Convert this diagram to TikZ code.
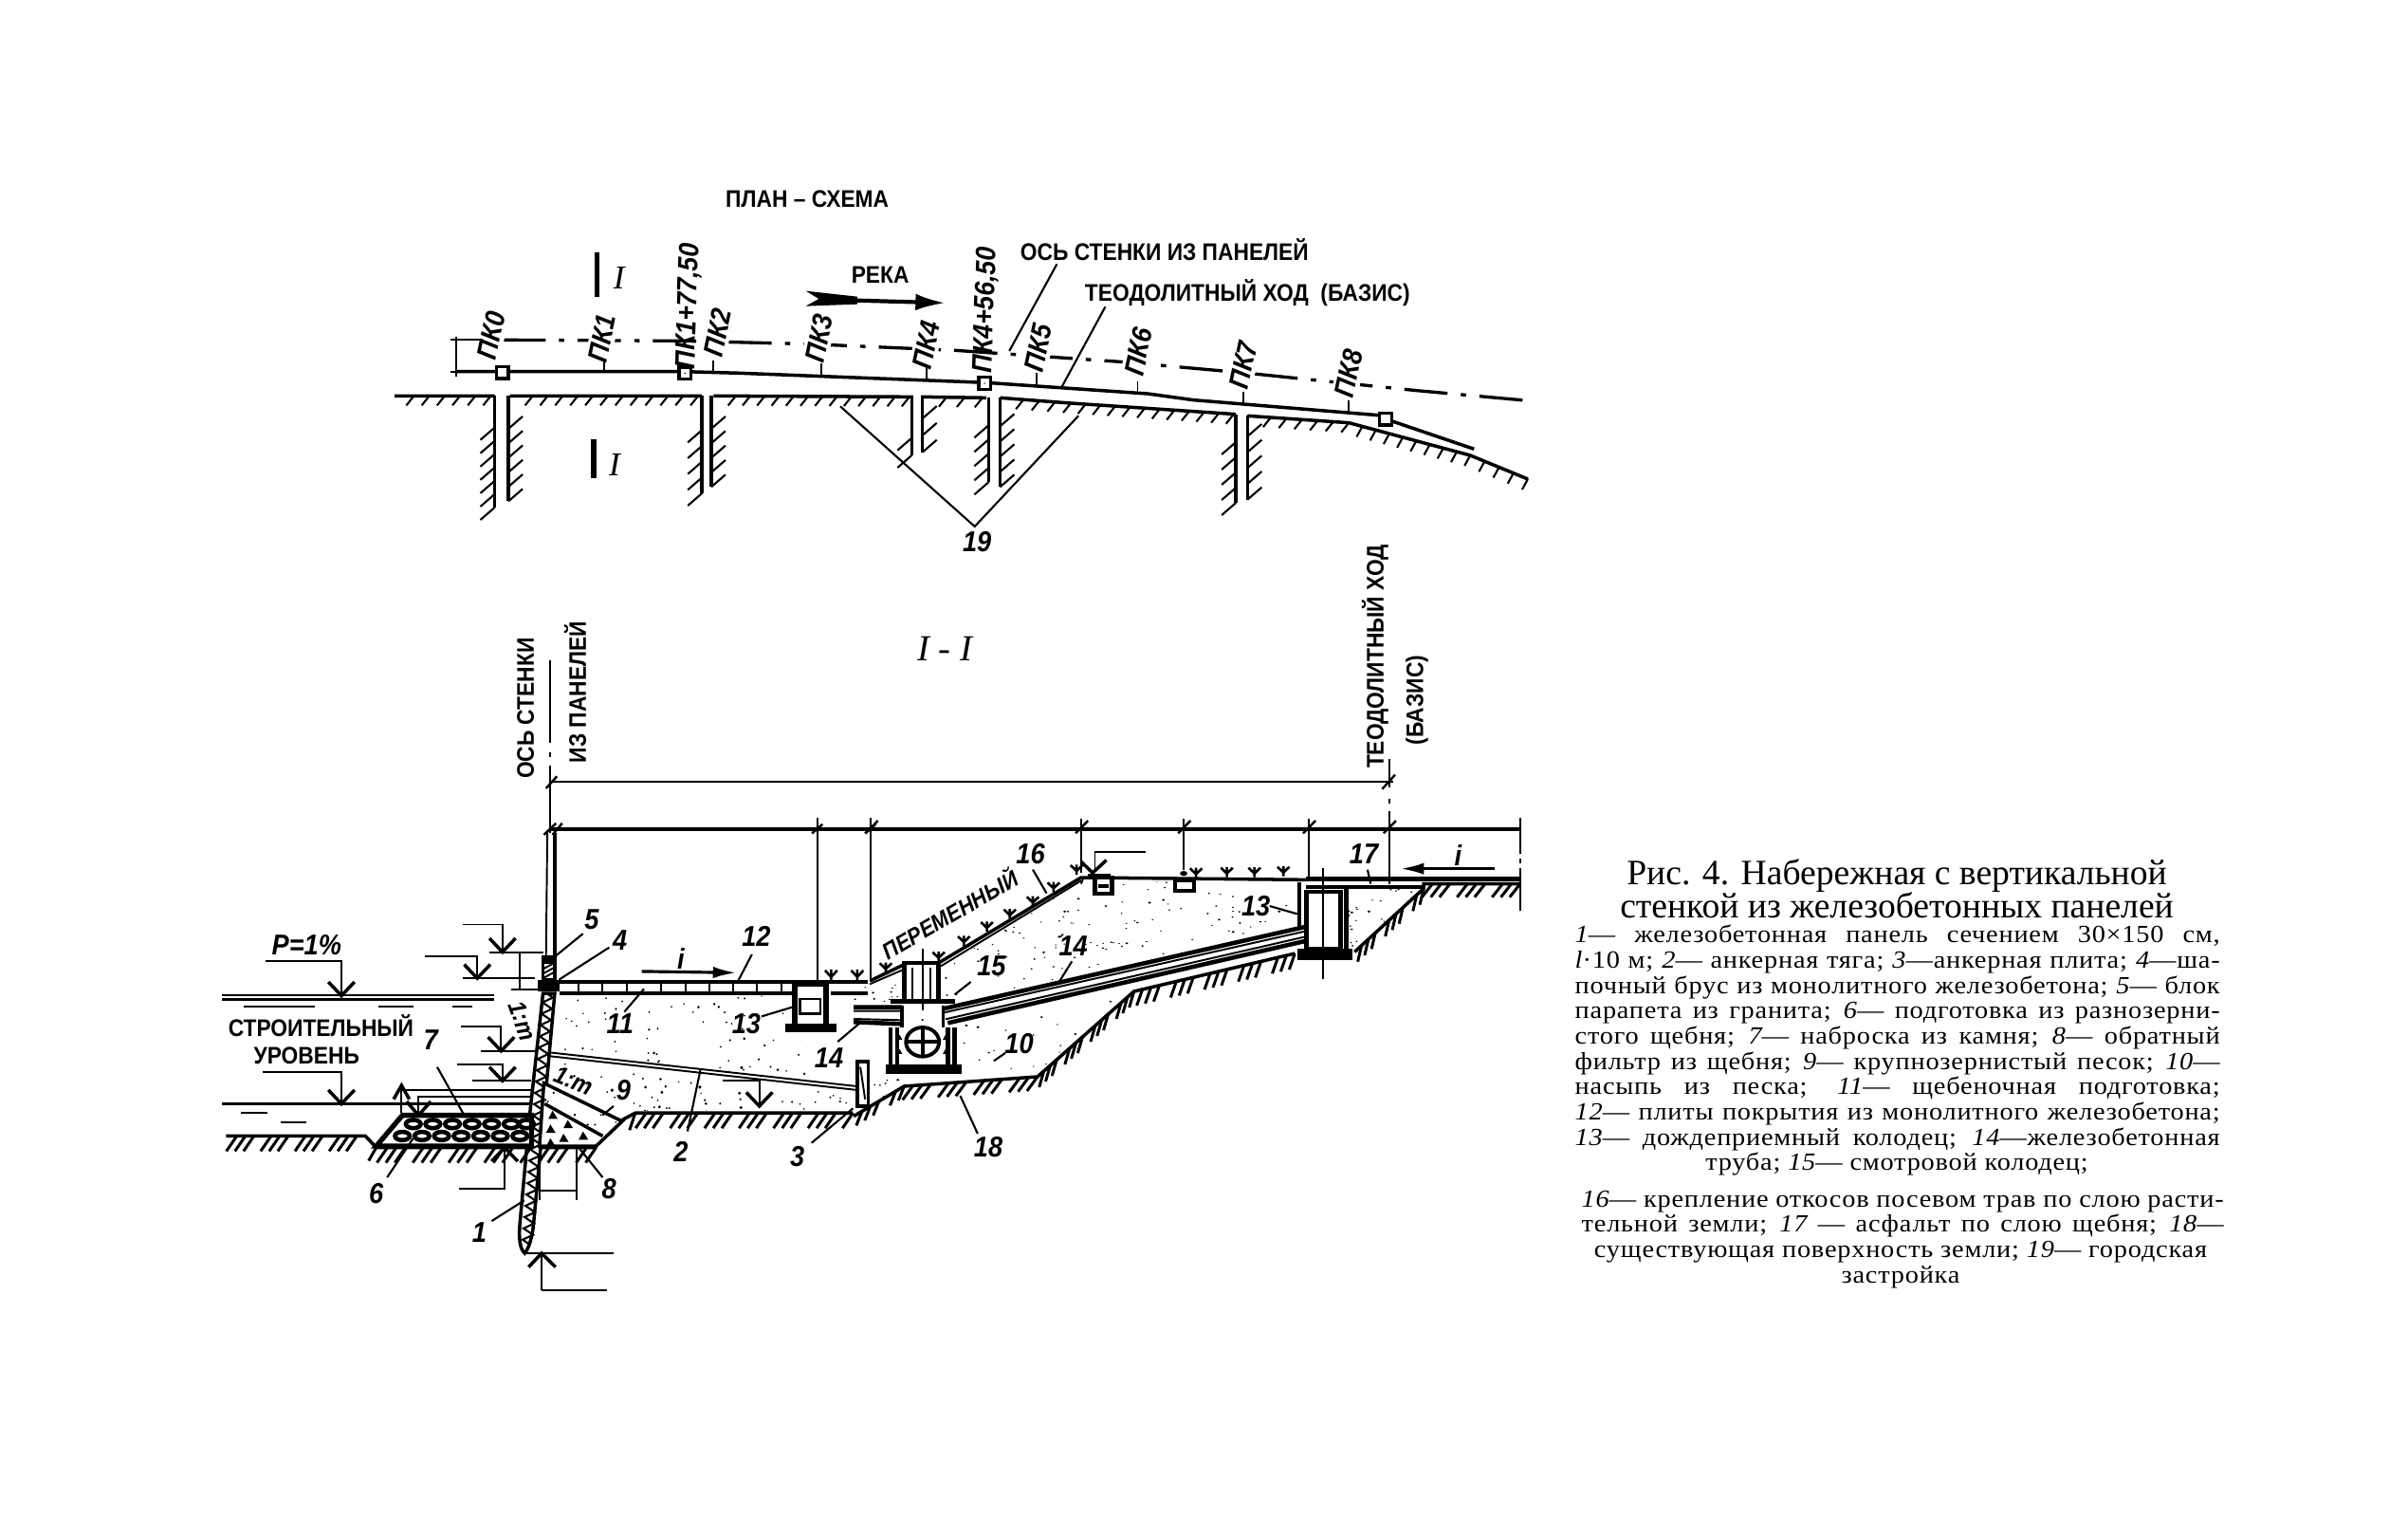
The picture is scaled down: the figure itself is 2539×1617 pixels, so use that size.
\documentclass[tikz,border=0pt]{standalone}
\usepackage{fontspec}
\setmainfont{Liberation Serif}
\newfontfamily\narrowsans{Liberation Sans}[FakeStretch=0.9]
\newfontfamily\legserif{Liberation Serif}[FakeStretch=1.09,LetterSpace=3]
\usetikzlibrary{decorations.pathmorphing,arrows.meta}
\newcommand{\capsfont}{\narrowsans\bfseries\fontsize{7.2}{8}\selectfont}
\newcommand{\numfont}{\narrowsans\bfseries\itshape\fontsize{8.6}{9}\selectfont}
\newcommand{\pkfont}{\narrowsans\bfseries\itshape\fontsize{8.4}{9}\selectfont}
\newcommand{\legfont}{\legserif\fontsize{7.4}{8}\selectfont}
\newcommand{\ti}[1]{{\itshape #1}}
\tikzset{
 main/.style={line width=1.0pt},
 thin line/.style={line width=0.55pt},
 lead/.style={line width=0.6pt},
 hw/.style={line width=0.6pt},
 caps/.style={font=\capsfont,inner sep=0pt},
 num/.style={font=\numfont,inner sep=0pt},
 pk/.style={font=\pkfont,inner sep=0pt},
 pkw/.style={font=\pkfont,inner sep=1pt,fill=white},
 crA/.style={shift={(400,180)},xscale=0.81,yscale=0.3333},
 crB/.style={shift={(220,640)},xscale=0.459,yscale=0.4847},
 crC/.style={shift={(900,800)},xscale=0.4847,yscale=0.3333},
 sta/.style={draw,line width=0.9pt,fill=white,minimum size=3.6pt,inner sep=0pt},
}
% hatch along a segment: x1 y1 x2 y2, tick dx dy (px), spacing (px), group
\newcommand{\hch}[8]{%
 \pgfmathsetmacro\hL{veclen((#3-#1)*\hsx,(#4-#2)*\hsy)}%
 \pgfmathtruncatemacro\hN{max(\hL/#7,1)}%
 \foreach \i in {0,...,\hN}{%
  \pgfmathtruncatemacro\hsk{mod(\i,#8)}%
  \ifnum\hsk>0
   \pgfmathsetmacro\hx{#1+(#3-#1)*\i/\hN}%
   \pgfmathsetmacro\hy{#2+(#4-#2)*\i/\hN}%
   \pgfmathsetmacro\hdx{#5/\hsx}%
   \pgfmathsetmacro\hdy{#6/\hsy}%
   \draw[hw] (\hx,\hy) -- ++(\hdx,\hdy);%
  \fi}}
% label with a leader
\newcommand{\ldr}[5]{\node[num] (l#1) at (#3) {#2};\coordinate (l#1a) at (#4);\coordinate (l#1b) at (#5);\draw[lead] (l#1a) -- (l#1b);}
% level mark
\newcommand{\lv}[4]{\draw[thin line] (#1,#4) -- (#2,#4) -- (#2,#3);\draw[main] (#2-30,#3-30) -- (#2,#3) -- (#2+30,#3-30);}
% sand
\newcommand{\sand}[7]{\begin{scope}\clip #7;\pgfmathsetseed{#1}\foreach \n in {1,...,#2}{\pgfmathsetmacro\rx{#3+rnd*#5}\pgfmathsetmacro\ry{#4+rnd*#6}\pgfmathsetmacro\rr{1.8+2.2*rnd*rnd}\fill (\rx,\ry) circle (\rr);}\end{scope}}
% grass
\newcommand{\grs}[2]{\draw[line width=0.75pt] (#1,#2-16) -- (#1,#2+16) (#1-13,#2-14) -- (#1,#2+4) -- (#1+13,#2-14);}
% caption line
\newcommand{\jl}[4]{\node[inner sep=0pt,anchor=base west,font=\legfont] (#1) at (#2) {\makebox[#3][s]{#4}};}
\begin{document}
\begin{tikzpicture}[x=0.1mm,y=-0.1mm,line cap=butt]
\useasboundingbox (0,0) rectangle (2539,1617);
\fill[white] (0,0) rectangle (2539,1617);
%%% PLAN
\begin{scope}[crA]
\def\hsx{0.81}\def\hsy{0.3333}
\node[caps] (plan) at (557,90) {ПЛАН – СХЕМА};
\node[caps] (reka) at (652,330) {РЕКА};
\node[caps] (osp) at (1022,250) {ОСЬ СТЕНКИ ИЗ ПАНЕЛЕЙ};
\node[caps] (teo) at (1130,385) {ТЕОДОЛИТНЫЙ ХОД\ \ (БАЗИС)};
% section marks
\draw[line width=1.5pt] (283,258) -- (283,400) (279,848) -- (279,972);
\node[font=\itshape\fontsize{10}{10}\selectfont,inner sep=0pt] (s1) at (312,340) {I};
\node[font=\itshape\fontsize{10}{10}\selectfont,inner sep=0pt] (s2) at (306,930) {I};
% river arrow
\draw[line width=1.2pt,-{Latex[length=9pt,width=5pt]}] (620,410) -- (737,418);
\fill (555,380) -- (622,398) -- (622,422) -- (555,428) -- (572,405) -- cycle;
% axis dash-dot
\draw[line width=0.95pt,dash pattern=on 13pt off 4pt on 1.6pt off 4pt] (160,535) -- (395,538) -- (560,548) -- (750,568) -- (970,605) -- (1130,640) -- (1350,695) -- (1500,728);
% labels
\node[pkw,rotate=78] (pk0) at (146,520) {ПК0};
\node[pkw,rotate=78] (pk1) at (290,530) {ПК1};
\node[pk,rotate=88] (pk1a) at (403,428) {ПК1+77,50};
\node[pkw,rotate=78] (pk2) at (440,512) {ПК2};
\node[pkw,rotate=78] (pk3) at (572,530) {ПК3};
\node[pkw,rotate=78] (pk4) at (712,550) {ПК4};
\node[pk,rotate=88] (pk4a) at (790,440) {ПК4+56,50};
\node[pkw,rotate=78] (pk5) at (858,560) {ПК5};
\node[pkw,rotate=78] (pk6) at (988,572) {ПК6};
\node[pkw,rotate=78] (pk7) at (1125,615) {ПК7};
\node[pkw,rotate=78] (pk8) at (1262,640) {ПК8};
% theodolite line
\draw[main] (100,635) -- (395,635) -- (470,640) -- (790,670) -- (1000,705) -- (1060,725) -- (1310,775);
\draw[main] (1310,785) -- (1425,880);
\draw[thin line] (100,525) -- (100,650);
\draw[thin line] (92,535) -- (135,535) (92,635) -- (110,635);
% ticks
\foreach \x/\a/\b in {293/595/635,435/600/635,575/610/650,712/622/662,855/640/680,987/665/705,1125/700/740,1262/725/770}{\draw[thin line] (\x,\a) -- (\x,\b);}
% stations
\node[sta] (st0) at (160,638) {};
\node[sta] (st1) at (398,640) {};
\node[sta] (st2) at (788,672) {};
\node[sta] (st3) at (1310,785) {};
\foreach \s in {st1,st2}{\fill (\s) circle (1.6);}
% coast
\draw[main] (20,712) -- (150,712) (170,712) -- (420,712) (435,712) -- (695,715) (705,715) -- (790,718) (808,718) -- (900,735) -- (1115,770) (1130,775) -- (1262,797) -- (1420,900) -- (1495,975);
\hch{25}{712}{145}{712}{-8}{10}{15}{1000}
\hch{180}{712}{415}{712}{-8}{10}{15}{1000}
\hch{445}{712}{690}{715}{-8}{10}{15}{1000}
\hch{715}{715}{785}{718}{-8}{10}{15}{1000}
\hch{818}{720}{900}{735}{-8}{10}{15}{1000}
\hch{900}{735}{1112}{770}{-8}{10}{15}{1000}
\hch{1140}{777}{1262}{797}{-8}{10}{15}{1000}
\hch{1262}{797}{1420}{900}{-6}{11}{14}{1000}
\hch{1420}{900}{1495}{975}{-6}{11}{14}{1000}
% lanes
\draw[main] (150,712) -- (150,1065) (168,712) -- (168,1045) (420,712) -- (420,1020) (432,712) -- (432,1000) (693,715) -- (693,900) (707,715) -- (707,890) (793,718) -- (793,985) (808,718) -- (808,1000) (1115,770) -- (1115,1050) (1130,775) -- (1130,1040);
\foreach \x/\a/\b in {150/770/1065,420/770/1020,693/790/900,793/760/985,1115/810/1050}{\hch{\x}{\a}{\x}{\b}{-15}{13}{14}{1000}}
\foreach \x/\a/\b in {168/770/1045,432/770/1000,707/730/890,808/760/1000,1130/790/1040}{\hch{\x}{\a}{\x}{\b}{15}{-13}{14}{1000}}
% leaders
\coordinate (oa) at (882,295);\coordinate (ob) at (820,570);\draw[lead] (oa) -- (ob);
\coordinate (ta) at (945,430);\coordinate (tb) at (888,685);\draw[lead] (ta) -- (tb);
\node[num] (n19) at (778,1172) {19};
\coordinate (ca) at (600,745);\coordinate (cb) at (910,775);\coordinate (cc) at (775,1125);
\draw[lead] (ca) -- (cc) -- (cb);
\end{scope}
\node[font=\itshape\fontsize{11}{11}\selectfont,inner sep=0pt] (secname) at (996,684) {I - I};
%%% SECTION, left part
\tikzset{hw/.style={line width=0.85pt}}
\begin{scope}[crB]
\def\hsx{0.459}\def\hsy{0.4847}
\sand{11}{95}{790}{840}{720}{210}{(800,845) -- (1330,845) -- (1330,930) -- (1500,1030) -- (1490,1040) -- (790,965) -- cycle}
\sand{12}{75}{790}{970}{700}{130}{(790,990) -- (950,1095) -- (1480,1095) -- (1480,1050) -- (800,980) -- cycle}
% captions on axis
\node[caps,rotate=90] (ax1) at (728,220) {ОСЬ СТЕНКИ};
\node[caps,rotate=90] (ax2) at (842,185) {ИЗ ПАНЕЛЕЙ};
\draw[thin line] (785,115) -- (785,295) (785,315) -- (785,325) (785,345) -- (785,490);
% wall
\draw[thin line] (778,490) -- (775,760);
\draw[main] (795,490) -- (795,760);
\draw[main] (768,760) rectangle (795,810);
\fill (768,760) rectangle (795,775);
\foreach \y in {780,790,800}{\draw[thin line] (770,\y+6) -- (793,\y-6);}
\fill (757,810) rectangle (805,836);
% panel
\draw[main,fill=white] (768,840) -- (738,1100) -- (715,1340) .. controls (712,1375) and (715,1395) .. (726,1405) .. controls (735,1395) and (742,1375) .. (746,1345) -- (770,1100) -- (795,840) -- cycle;
\draw[line width=0.6pt,decorate,decoration={zigzag,segment length=3.4pt,amplitude=1.5pt}] (780,842) -- (732,1385);
% plates
\draw[main] (805,815) -- (1350,815);
\draw[main] (805,840) -- (1340,840);
\foreach \x in {850,905,960,1040,1095,1150,1205,1260,1315}{\draw[thin line] (\x,815) -- (\x,840);}
% water
\draw[thin line] (30,843) -- (655,843);
\draw[main] (30,853) -- (655,853);
\draw[thin line] (80,868) -- (245,868) (390,868) -- (470,868) (560,868) -- (605,868);
\draw[main] (30,1080) -- (740,1080);
\draw[thin line] (75,1100) -- (135,1100) (165,1120) -- (225,1120);
\lv{130}{305}{845}{770}
\lv{125}{305}{1080}{1010}
\node[font=\numfont,inner sep=0pt] (p1) at (225,735) {P=1\%};
\node[caps] (stl) at (258,910) {СТРОИТЕЛЬНЫЙ};
\node[caps] (stu) at (225,975) {УРОВЕНЬ};
% other level marks
\lv{583}{675}{750}{690}
\draw[thin line] (645,750) -- (770,750);
\lv{497}{617}{807}{760}
\draw[thin line] (583,807) -- (750,807);
\draw[thin line] (715,750) -- (715,832);
\draw[thin line] (695,832) -- (760,832);
\lv{580}{672}{965}{912}
\draw[thin line] (625,965) -- (750,965);
\lv{570}{675}{1030}{995}
\draw[thin line] (605,1030) -- (740,1030);
\draw[thin line] (443,1100) -- (443,1050) -- (740,1050);
\draw[main] (425,1070) -- (443,1040) -- (461,1070);
\draw[thin line] (482,1100) -- (482,1065) -- (740,1065);
\draw[main] (455,1075) -- (482,1105) -- (510,1075);
% stones layer
\draw[fill=white,line width=1.5pt] (385,1172) -- (445,1105) -- (742,1105) -- (742,1172) -- cycle;
\foreach \x in {470,515,560,605,650,695,730}{\draw[line width=1.3pt] (\x,1124) ellipse (17 and 9);}
\foreach \x in {445,490,535,580,625,670,715}{\draw[line width=1.3pt] (\x,1150) ellipse (17 and 9);}
% ground left
\draw[main] (40,1150) -- (360,1150) -- (385,1175) -- (740,1175);
\hch{45}{1150}{360}{1150}{-11}{16}{9}{4}
\hch{360}{1150}{385}{1175}{-8}{14}{9}{4}
\hch{390}{1175}{740}{1175}{-11}{16}{9}{4}
% filter
\draw[main,fill=white] (770,1035) -- (950,1118) -- (890,1172) -- (760,1172) -- cycle;
\draw[main] (772,1080) -- (905,1150);
\foreach \x/\y in {790/1105,825/1125,785/1135,815/1155,860/1150,785/1165}{\fill (\x-10,\y+8) -- (\x,\y-10) -- (\x+12,\y+8) -- cycle;}
\sand{13}{30}{770}{1040}{180}{110}{(772,1040) -- (945,1118) -- (905,1145) -- (772,1075) -- cycle}
\draw[main] (760,1175) -- (890,1175) (950,1115) -- (980,1100) -- (1480,1100);
\hch{760}{1175}{890}{1175}{-11}{16}{9}{4}
\hch{950}{1115}{980}{1100}{-6}{18}{9}{4}
\hch{985}{1100}{1480}{1100}{-11}{16}{9}{4}
% bottom marks
\draw[thin line] (575,1265) -- (680,1265) -- (680,1175);
\draw[main] (650,1205) -- (680,1175) -- (710,1205);
\draw[thin line] (760,1180) -- (760,1290) (845,1175) -- (845,1290) (760,1268) -- (845,1268);
\draw[thin line] (765,1485) -- (915,1485) (765,1485) -- (765,1405) (725,1405) -- (930,1405);
\draw[main] (735,1435) -- (765,1405) -- (797,1435);
% anchor rod
\draw[thin line] (780,968) -- (1490,1042);
\draw[thin line] (780,976) -- (1490,1050);
\draw[thin line] (1180,1030) -- (1265,1030) -- (1265,1085);
\draw[main] (1235,1055) -- (1265,1085) -- (1295,1055);
\draw[main,fill=white] (1490,988) rectangle (1515,1085);
\draw[thin line] (1497,1000) -- (1508,1070);
% well 13 left
\fill (1340,815) rectangle (1425,826);
\draw[line width=1.6pt] (1347,826) -- (1347,905) (1418,826) -- (1418,905);
\draw[fill=white,line width=0.8pt] (1358,852) rectangle (1405,884);
\fill (1325,905) rectangle (1442,925);
% dim lines
\draw[thin line] (785,380) -- (2722,380);
\draw[main] (785,483) -- (3013,483);
\draw[thin line] (1398,458) -- (1398,815) (1520,458) -- (1520,815);
\foreach \x in {1398,1520}{\draw[line width=0.7pt] (\x-12,492) -- (\x+12,472);}
\draw[line width=0.7pt] (775,394) -- (800,368) (770,495) -- (798,470) (790,495) -- (812,470);
% surface to slope
\draw[main] (1350,815) -- (1515,815);
\draw[main] (1430,840) -- (1515,840);
\foreach \x/\y in {1430/800,1490/800}{\draw[line width=0.75pt] (\x,\y-12) -- (\x,\y+12) (\x-14,\y-10) -- (\x,\y+4) -- (\x+14,\y-10);}
% labels
\ldr{5}{5}{880,680}{860,710}{795,760}
\ldr{4}{4}{945,725}{920,740}{805,810}
\ldr{12}{12}{1258,715}{1248,755}{1215,815}
\node[num] (ii) at (1085,765) {i};
\draw[line width=0.9pt,-{Latex[length=7pt,width=3.5pt]}] (995,792) -- (1212,795);
\ldr{11}{11}{945,905}{1000,830}{955,880}
\ldr{13}{13}{1235,905}{1270,890}{1340,870}
\ldr{14}{14}{1425,980}{1445,945}{1495,905}
\ldr{7}{7}{510,940}{525,1000}{590,1110}
\ldr{9}{9}{953,1050}{930,1085}{905,1105}
\ldr{2}{2}{1085,1185}{1130,1005}{1100,1140}
\ldr{3}{3}{1352,1195}{1385,1165}{1480,1090}
\ldr{6}{6}{385,1275}{410,1240}{470,1155}
\ldr{8}{8}{920,1265}{905,1240}{850,1175}
\ldr{1}{1}{622,1360}{650,1335}{725,1290}
\node[inner sep=0pt,font=\narrowsans\bfseries\itshape\fontsize{7.4}{8}\selectfont,rotate=-70] (sl1) at (722,900) {1:m};
\node[inner sep=0pt,font=\narrowsans\bfseries\itshape\fontsize{7.4}{8}\selectfont,rotate=-22] (sl2) at (838,1030) {1:m};
\end{scope}
%%% SECTION, right part
\begin{scope}[crC]
\def\hsx{0.4847}\def\hsy{0.3333}
\sand{21}{190}{190}{380}{780}{400}{(195,660) -- (495,385) -- (965,395) -- (965,530) -- (215,770) -- (195,740) -- cycle}
\sand{22}{85}{40}{730}{570}{370}{(225,845) -- (600,735) -- (405,1000) -- (115,1030) -- (40,1090) -- (40,1000) -- (235,1000) -- cycle}
\sand{23}{45}{1075}{405}{170}{200}{(1075,405) -- (1240,405) -- (1090,600) -- (1075,590) -- cycle}
\sand{24}{22}{0}{660}{110}{115}{(0,720) -- (35,710) -- (110,660) -- (110,760) -- (80,775) -- (0,775) -- cycle}
% surface
\draw[main] (38,700) -- (110,650) -- (185,645);
\draw[main] (185,645) -- (495,375) -- (985,382);
\draw[thin line] (35,712) -- (110,665);
\draw[thin line] (190,655) -- (495,385);
\draw[thin line] (495,395) -- (500,375);
\foreach \x/\y in {70/660,185/625,240/575,290/530,340/490,390/450,435/405,485/350,745/360,812/358,872/358,935/355}{\grs{\x}{\y}}
% ground
\draw[main] (0,1130) -- (110,1035) -- (400,1005) -- (610,735) -- (960,615) (1090,610) -- (1240,410) -- (1240,395) -- (1450,395);
\hch{0}{1130}{110}{1035}{-6}{15}{9}{4}
\hch{110}{1035}{400}{1005}{-11}{15}{9}{4}
\hch{400}{1005}{610}{735}{-5}{17}{9}{4}
\hch{610}{735}{960}{615}{-6}{17}{9}{4}
\hch{1090}{610}{1240}{410}{-4}{17}{9}{4}
\hch{1240}{395}{1450}{395}{-11}{14}{9}{4}
\draw[thin line] (1450,185) -- (1450,300) (1450,315) -- (1450,330) (1450,345) -- (1450,480);
% pipes
\draw[line width=1.3pt] (195,790) -- (985,530) (205,835) -- (1000,570);
\draw[thin line] (197,802) -- (988,543) (200,823) -- (995,558);
\draw[line width=1.3pt] (0,785) -- (105,785) (0,832) -- (105,838);
\draw[thin line] (0,797) -- (105,797) (0,822) -- (105,826);
\draw[line width=1.3pt] (985,530) -- (1000,570);
% manhole 15
\draw[line width=1.4pt,fill=white] (110,760) -- (110,645) -- (185,645) -- (185,760);
\draw[thin line] (128,660) -- (128,760) (168,660) -- (168,760);
\fill (80,760) rectangle (220,775);
\draw[line width=1.1pt] (105,780) -- (105,850) (195,780) -- (195,850);
\draw[line width=1.3pt] (80,850) -- (80,965) (220,850) -- (220,965) (95,850) -- (95,965) (205,850) -- (205,965);
\fill (70,965) rectangle (235,995);
\draw[thin line] (150,600) -- (150,795);
\fill (150,825) circle (3);
\draw[line width=1.1pt] (150,895) ellipse (36 and 46);
\draw[line width=1.1pt] (114,895) -- (186,895) (150,849) -- (150,941);
\foreach \x/\y in {100/925,100/880,200/925,200/880}{\fill (\x-6,\y+8) -- (\x,\y-8) -- (\x+6,\y+8) -- cycle;}
\draw[lead] (255,705) -- (220,745);
\node[num] (n15) at (300,655) {15};
% dim lines
\foreach \x/\a/\b in {38/190/700,495/190/360,718/190/350,990/190/385,1165/190/395}{\draw[thin line] (\x,\a) -- (\x,\b);}
\foreach \x in {38,495,718,990,1165}{\draw[line width=0.7pt] (\x-12,235) -- (\x+15,195);}
\draw[line width=0.7pt] (1150,95) -- (1178,50);
\draw[thin line] (1165,0) -- (1165,90) (1165,125) -- (1165,140) (1165,165) -- (1165,190);
% level top
\draw[thin line] (635,295) -- (525,295) -- (525,355);
\draw[main] (495,325) -- (520,360) -- (550,320);
% small wells
\draw[fill=white,line width=1.2pt] (525,375) rectangle (562,425);
\draw[line width=0.9pt] (532,402) -- (555,402);
\fill (510,362) rectangle (560,375);
\draw[fill=white,line width=1.2pt] (700,380) rectangle (740,418);
\fill (718,362) circle (8);
\fill (695,375) rectangle (745,390);
% right well
\draw[main] (970,390) -- (970,530);
\draw[line width=1.3pt] (985,380) -- (1450,380);
\draw[main] (985,405) -- (1240,405);
\draw[line width=1.4pt,fill=white] (985,420) -- (985,600) -- (1060,600) -- (1060,420) -- cycle;
\draw[line width=1.4pt] (1072,405) -- (1072,600);
\fill (965,600) rectangle (1085,635);
\draw[thin line] (1022,345) -- (1022,695);
% labels
\node[caps,rotate=30,font=\narrowsans\bfseries\itshape\fontsize{6.9}{8}\selectfont] (per) at (208,487) {ПЕРЕМЕННЫЙ};
\ldr{16}{16}{385,300}{390,350}{420,425}
\ldr{14b}{14}{478,590}{475,640}{445,710}
\ldr{10}{10}{360,900}{330,930}{305,955}
\ldr{13b}{13}{875,465}{905,465}{965,490}
\ldr{17}{17}{1110,300}{1118,350}{1125,395}
\ldr{18}{18}{293,1228}{270,1185}{232,1065}
\node[num] (ii2) at (1315,305) {i};
\draw[line width=0.9pt,-{Latex[length=7pt,width=3.5pt]}] (1395,347) -- (1190,347);
\end{scope}
\node[caps,rotate=90] (teoA) at (1450,692) {ТЕОДОЛИТНЫЙ ХОД};
\node[caps,rotate=90] (teoB) at (1494,738) {(БАЗИС)};
%%% CAPTION
\node[inner sep=0pt,anchor=base,font=\fontsize{10.7}{11}\selectfont] (t1) at (2000,932) {Рис. 4. Набережная с вертикальной};
\node[inner sep=0pt,anchor=base,font=\fontsize{10.7}{11}\selectfont] (t2) at (2000,967) {стенкой из железобетонных панелей};
\jl{a1}{1660,993}{68mm}{\ti{1}— железобетонная панель сечением 30×150 см,}
\jl{a2}{1660,1020}{68mm}{\ti{l}·10 м; \ti{2}— анкерная тяга; \ti{3}—анкерная плита; \ti{4}—ша-}
\jl{a3}{1660,1047}{68mm}{почный брус из монолитного железобетона; \ti{5}— блок}
\jl{a4}{1660,1073}{68mm}{парапета из гранита; \ti{6}— подготовка из разнозерни-}
\jl{a5}{1660,1100}{68mm}{стого щебня; \ti{7}— наброска из камня; \ti{8}— обратный}
\jl{a6}{1660,1127}{68mm}{фильтр из щебня; \ti{9}— крупнозернистый песок; \ti{10}—}
\jl{a7}{1660,1153}{68mm}{насыпь из песка; \ti{11}— щебеночная подготовка;}
\jl{a8}{1660,1180}{68mm}{\ti{12}— плиты покрытия из монолитного железобетона;}
\jl{a9}{1660,1207}{68mm}{\ti{13}— дождеприемный колодец; \ti{14}—железобетонная}
\node[inner sep=0pt,anchor=base,font=\legfont] (a10) at (2000,1233) {труба; \ti{15}— смотровой колодец;};
\jl{b1}{1667,1272}{67.7mm}{\ti{16}— крепление откосов посевом трав по слою расти-}
\jl{b2}{1667,1298}{67.7mm}{тельной земли; \ti{17} — асфальт по слою щебня; \ti{18}—}
\node[inner sep=0pt,anchor=base,font=\legfont] (b3) at (2004,1325) {существующая поверхность земли; \ti{19}— городская};
\node[inner sep=0pt,anchor=base,font=\legfont] (b4) at (2004,1352) {застройка};
\end{tikzpicture}
\end{document}
